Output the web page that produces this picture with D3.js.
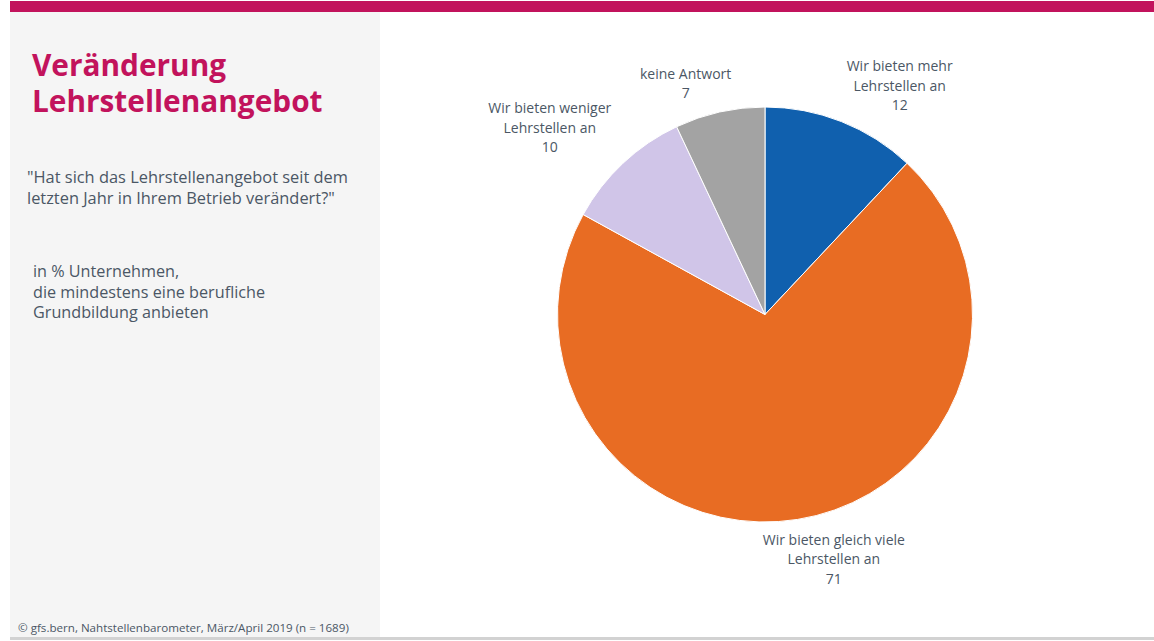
<!DOCTYPE html>
<html><head><meta charset="utf-8">
<script src="https://cdn.jsdelivr.net/npm/d3@7"></script>
<style>
html,body{margin:0;padding:0;background:#fff;}
svg{display:block;font-family:"Open Sans","Noto Sans",sans-serif;}
</style></head>
<body>
<svg id="chart" width="1154" height="641"></svg>
<script>
// ---- data ----
const categories = [
  ["Wir bieten mehr", "Lehrstellen an"],
  ["Wir bieten gleich viele", "Lehrstellen an"],
  ["Wir bieten weniger", "Lehrstellen an"],
  ["keine Antwort"]
];
const values = [12, 71, 10, 7];
const colors = ["#1060ae", "#e86c23", "#d0c5e8", "#a3a3a3"];

const titleLines = ["Veränderung", "Lehrstellenangebot"];
const questionLines = ["\"Hat sich das Lehrstellenangebot seit dem", "letzten Jahr in Ihrem Betrieb verändert?\""];
const baseLines = ["in % Unternehmen,", "die mindestens eine berufliche", "Grundbildung anbieten"];
const footnote = "© gfs.bern, Nahtstellenbarometer, März/April 2019 (n = 1689)";

// ---- layout ----
const W = 1154, H = 641;
const cx = 765, cy = 314.5, R = 207.5;
const labelNudge = [[48,-10],[32,12],[-54,-15],[-28,-1]];
const textColor = "#4b5765";

const svg = d3.select("#chart");

// top bar, side panel, bottom rule
svg.append("rect").attr("x",10).attr("y",1).attr("width",W-10).attr("height",11).attr("fill","#c2135c");
svg.append("rect").attr("x",10).attr("y",12).attr("width",370).attr("height",625).attr("fill","#f5f5f5");
svg.append("rect").attr("x",10).attr("y",637).attr("width",W-10).attr("height",3).attr("fill","#d2d2d2");

// title (separate text elements per line)
titleLines.forEach((l,i)=>svg.append("text").attr("fill","#c2135c").attr("font-weight",700)
  .attr("font-size",29.8).attr("x",32).attr("y",76+i*36).text(l));

questionLines.forEach((l,i)=>svg.append("text").attr("fill",textColor).attr("font-size",16.4)
  .attr("x",27).attr("y",183+i*21).text(l));

baseLines.forEach((l,i)=>svg.append("text").attr("fill",textColor).attr("font-size",16.2)
  .attr("x",33).attr("y",277+i*20.5).text(l));

svg.append("text").attr("x",18).attr("y",632).attr("fill",textColor).attr("font-size",11.6).text(footnote);

// pie
const pie = d3.pie().sort(null).value(d=>d)(values);
const arc = d3.arc().innerRadius(0).outerRadius(R);
const g = svg.append("g").attr("transform",`translate(${cx},${cy})`);
g.selectAll("path").data(pie).join("path")
  .attr("d",arc).attr("fill",(d,i)=>colors[i])
  .attr("stroke","#fff").attr("stroke-width",1);

// labels
const lh = 19.5;
pie.forEach((d,i)=>{
  const mid = (d.startAngle+d.endAngle)/2;
  const px = Math.sin(mid)*(R+28) + labelNudge[i][0];
  const py = -Math.cos(mid)*(R+28) + labelNudge[i][1];
  const lines = categories[i].concat([String(values[i])]);
  const tx = g.append("text").attr("fill",textColor).attr("font-size",14).attr("text-anchor","middle");
  const y0 = py - (lines.length-1)*lh/2 + 5;
  lines.forEach((l,k)=>tx.append("tspan").attr("x",px).attr("y",y0+k*lh).text(l));
});
</script>
</body></html>
